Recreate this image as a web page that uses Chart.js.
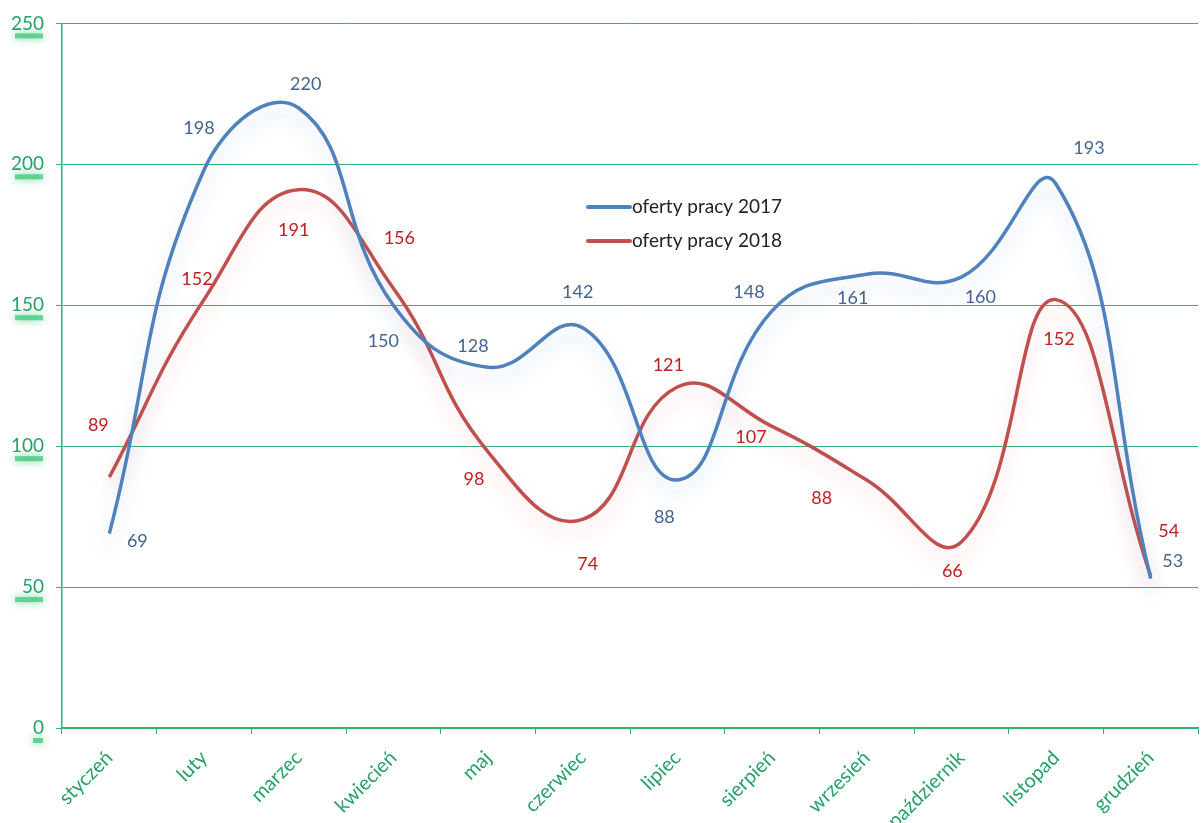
<!DOCTYPE html>
<html><head><meta charset="utf-8">
<script src="https://cdn.jsdelivr.net/npm/chart.js@4"></script>
<style>html,body{margin:0;padding:0;background:#fff}#wrap{width:1203px;height:823px}</style>
</head><body><div id="wrap"><canvas id="c" width="1203" height="823"></canvas></div>
<script>
const months = ['styczeń','luty','marzec','kwiecień','maj','czerwiec','lipiec','sierpień','wrzesień','październik','listopad','grudzień'];
const offers2017 = [69,198,220,150,128,142,88,148,161,160,193,53];
const offers2018 = [89,152,191,156,98,74,121,107,88,66,152,54];
const seriesNames = ['oferty pracy 2017','oferty pracy 2018'];
const yTicks = [0,50,100,150,200,250];

// label offsets (px) relative to each point
const labelOff2017 = [[28,8],[-5,-42],[7,-24],[-10,36],[-15,-21],[-5,-36],[-13,37],[-23,-19],[-14,24],[19,20],[33,-36],[22,-17]];
const labelOff2018 = [[-11,-52],[-7,-20],[-5,41],[6,-50],[-14,27],[5,45],[-9,-22],[-21,11],[-45,18],[-9,29],[3,40],[18,-45]];

const GREEN = '#2bb673';
const TXT_GREEN = '#25a265';
const BLUE = '#4f81bd', RED = '#c0504d';
const FONT = 'Lato, "Open Sans", sans-serif';

const glowPlugin = {
  id:'glow',
  beforeDatasetDraw(chart, args){
    const ctx = chart.ctx; ctx.save();
    ctx.shadowColor = args.index === 0 ? 'rgba(79,129,189,0.3)' : 'rgba(230,90,90,0.3)';
    ctx.shadowBlur = 18; ctx.shadowOffsetY = 12;
  },
  afterDatasetDraw(chart){ chart.ctx.restore(); }
};

const tickGlow = {
  id:'tickGlow',
  beforeDraw(chart){
    const ctx = chart.ctx, y = chart.scales.y;
    ctx.save();
    yTicks.forEach(v=>{
      const py = y.getPixelForValue(v);
      const w = v===0 ? 10 : 28;
      ctx.shadowColor = 'rgba(40,190,110,0.9)';
      ctx.shadowBlur = 8;
      ctx.fillStyle = 'rgba(60,200,120,0.75)';
      ctx.fillRect(44 - w - 1, py + 10, w, 5);
    });
    ctx.restore();
  }
};

const labelsPlugin = {
  id:'valLabels',
  afterDatasetsDraw(chart){
    const ctx = chart.ctx;
    const offs = [labelOff2017, labelOff2018];
    const cols = ['#44648f','#c0201f'];
    ctx.save();
    ctx.font = '18px ' + FONT;
    ctx.textAlign = 'center'; ctx.textBaseline = 'middle';
    chart.data.datasets.forEach((ds, di)=>{
      const meta = chart.getDatasetMeta(di);
      ctx.fillStyle = cols[di];
      meta.data.forEach((pt, i)=>{
        const x = chart.scales.x.getPixelForValue(i);
        const y = chart.scales.y.getPixelForValue(ds.data[i]);
        ctx.fillText(String(ds.data[i]), x + offs[di][i][0], y + offs[di][i][1]);
      });
    });
    // legend
    const lx = 588, ly = [207, 241];
    ctx.textAlign = 'left';
    ctx.font = '19px ' + FONT;
    [BLUE, RED].forEach((c, i)=>{
      ctx.strokeStyle = c; ctx.lineWidth = 4; ctx.lineCap = 'round';
      ctx.beginPath(); ctx.moveTo(lx, ly[i]); ctx.lineTo(lx + 42, ly[i]); ctx.stroke();
      ctx.fillStyle = '#222';
      ctx.fillText(seriesNames[i], lx + 44, ly[i]);
    });
    ctx.restore();
  }
};

new Chart(document.getElementById('c'), {
  type:'line',
  data:{
    labels: months,
    datasets:[
      {label:seriesNames[0], data:offers2017, borderColor:BLUE, borderWidth:3.5, pointRadius:0, tension:0.45, fill:false},
      {label:seriesNames[1], data:offers2018, borderColor:RED, borderWidth:3.5, pointRadius:0, tension:0.45, fill:false}
    ]
  },
  options:{
    responsive:false, animation:false, devicePixelRatio:1,
    layout:{padding:{top:21,right:5,left:0,bottom:0}},
    plugins:{legend:{display:false}, tooltip:{enabled:false}},
    scales:{
      x:{
        offset:true,
        grid:{offset:true, drawOnChartArea:false, color:GREEN, tickLength:6, tickColor:GREEN},
        border:{color:GREEN, width:1.5},
        ticks:{color:TXT_GREEN, font:{family:FONT, size:20}, minRotation:45, maxRotation:45, padding:12},
        afterFit(s){ s.height = 95; }
      },
      y:{
        min:0, max:250,
        afterBuildTicks(s){ s.ticks = yTicks.map(v=>({value:v})); },
        grid:{color:GREEN, tickLength:6, tickColor:GREEN, lineWidth:1},
        border:{color:GREEN, width:1.5},
        ticks:{color:TXT_GREEN, font:{family:FONT, size:19}, padding:12},
        afterFit(s){ s.width = 62; }
      }
    }
  },
  plugins:[glowPlugin, tickGlow, labelsPlugin]
});
</script></body></html>
